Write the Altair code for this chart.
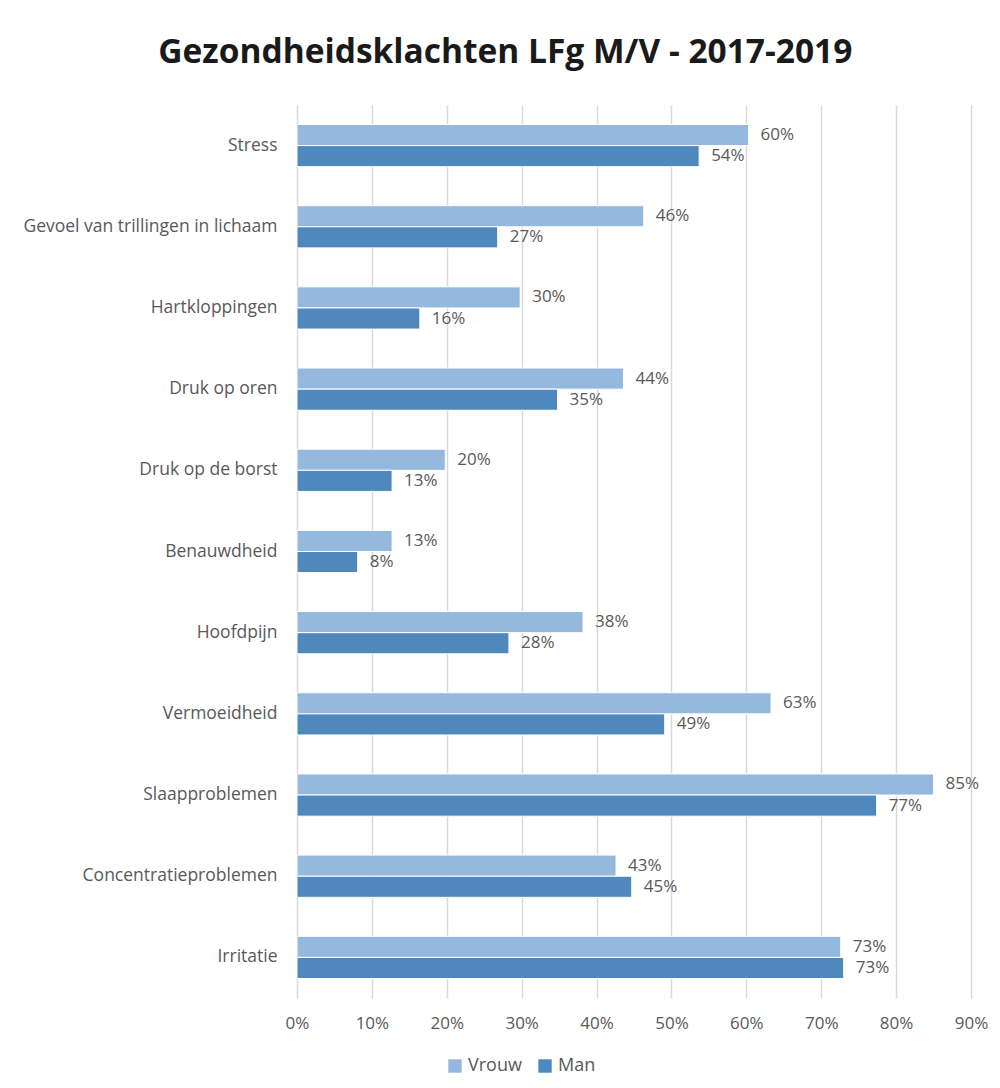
import altair as alt
import pandas as pd

categories = ["Stress", "Gevoel van trillingen in lichaam", "Hartkloppingen", "Druk op oren",
              "Druk op de borst", "Benauwdheid", "Hoofdpijn", "Vermoeidheid",
              "Slaapproblemen", "Concentratieproblemen", "Irritatie"]
vrouw = [0.603, 0.463, 0.298, 0.436, 0.198, 0.127, 0.382, 0.633, 0.850, 0.426, 0.726]
man = [0.537, 0.268, 0.164, 0.348, 0.127, 0.081, 0.283, 0.491, 0.774, 0.447, 0.730]
series = ["Vrouw", "Man"]
colors = ["#95B8DF", "#4F88BD"]
x_ticks = [0, 0.1, 0.2, 0.3, 0.4, 0.5, 0.6, 0.7, 0.8, 0.9]

rows = []
for c, v, m in zip(categories, vrouw, man):
    rows.append({"cat": c, "serie": "Vrouw", "val": v})
    rows.append({"cat": c, "serie": "Man", "val": m})
df = pd.DataFrame(rows)

y_enc = alt.Y("cat:N", sort=categories, title=None,
              scale=alt.Scale(paddingInner=0.48, paddingOuter=0.24),
              axis=alt.Axis(labelFontSize=17.5, labelColor="#595959", labelFont="Open Sans",
                            labelPadding=20, ticks=False, domain=False, labelLimit=400))
yoff = alt.YOffset("serie:N", sort=series, scale=alt.Scale(paddingInner=0, paddingOuter=0))
x_enc = alt.X("val:Q", title=None,
              scale=alt.Scale(domain=[0, 0.9], nice=False),
              axis=alt.Axis(values=x_ticks, format=".0%", labelFontSize=17, labelColor="#595959",
                            labelFont="Open Sans", labelPadding=17, ticks=False, domain=False,
                            labelFlush=False,
                            grid=True, gridColor="#D9D9D9", gridWidth=1.5))

base = alt.Chart(df)
bars = base.mark_bar(stroke="white", strokeWidth=1).encode(
    x=x_enc, y=y_enc, yOffset=yoff,
    color=alt.Color("serie:N", sort=series,
                    scale=alt.Scale(domain=series, range=colors),
                    legend=alt.Legend(title=None, orient="none", direction="horizontal",
                                      legendX=149, legendY=952,
                                      labelFontSize=18, labelColor="#595959", labelFont="Open Sans",
                                      symbolType="square", symbolSize=180, symbolStrokeWidth=0,
                                      columnPadding=14, labelOffset=4))
)
labels = base.mark_text(align="left", baseline="middle", dx=12, fontSize=17,
                        color="#595959", font="Open Sans").encode(
    x="val:Q", y=alt.Y("cat:N", sort=categories), yOffset=yoff,
    text=alt.Text("val:Q", format=".0%")
)

chart = (bars + labels).properties(
    width=674, height=893,
    title=alt.TitleParams("Gezondheidsklachten LFg M/V - 2017-2019", fontSize=33.5,
                          font="Open Sans", fontWeight="bold", color="#1a1a1a",
                          anchor="middle", frame="bounds", offset=35),
    padding={"left": 14, "top": 27, "right": 0, "bottom": 5}
).configure_view(stroke=None)

chart.save("out.html", embed_options={"renderer": "svg", "actions": False})
